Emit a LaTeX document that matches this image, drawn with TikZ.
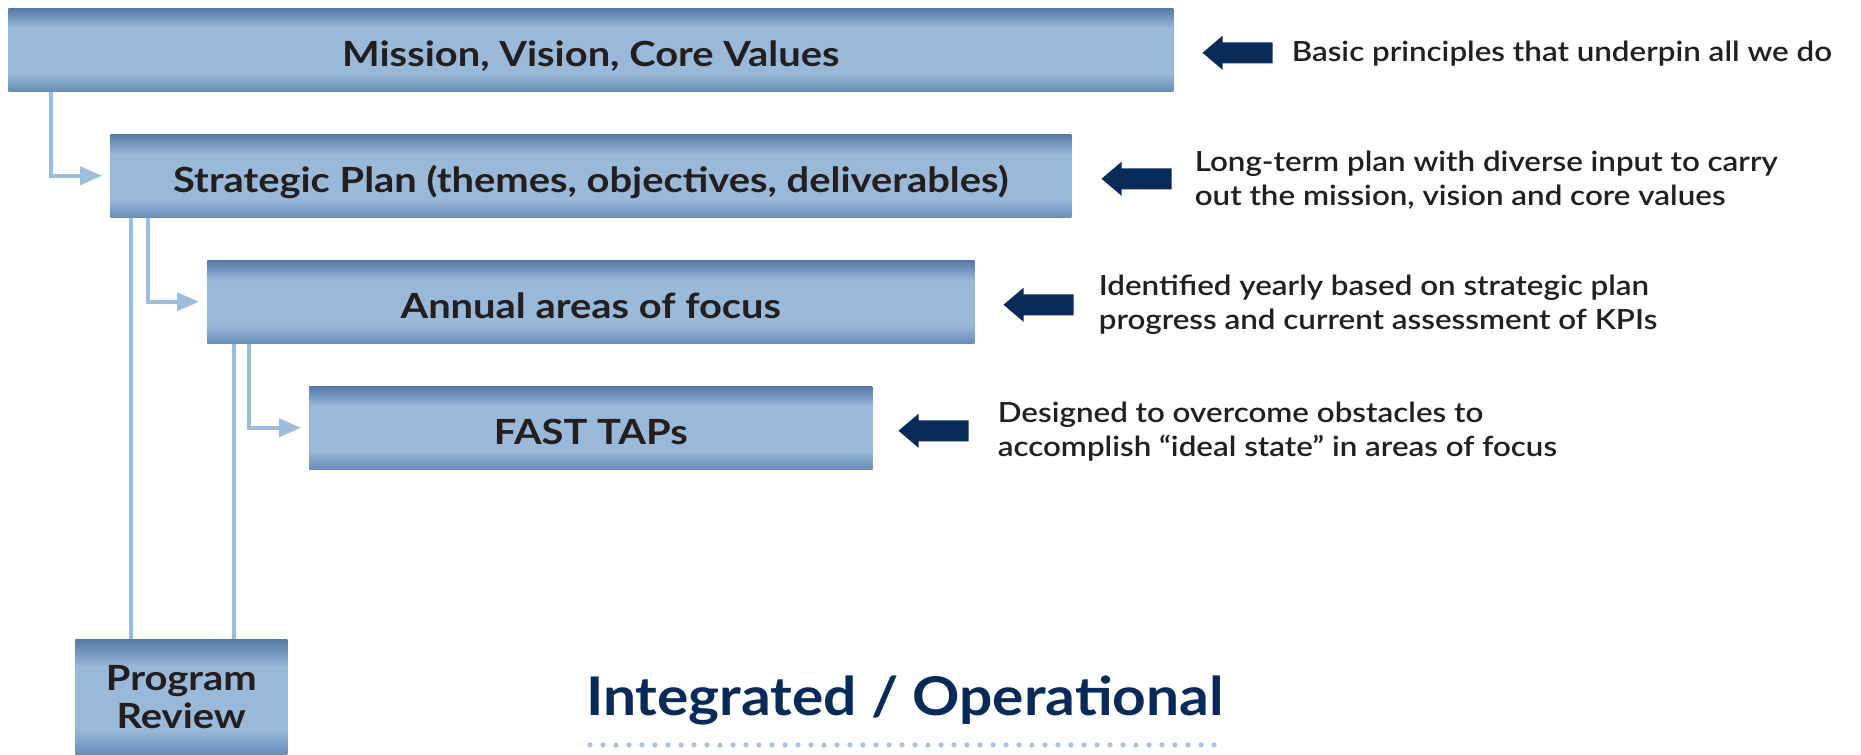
\documentclass[tikz,border=0pt]{standalone}
\usepackage{fontspec}
\setmainfont{Lato}
\newfontfamily\titlefont{Lato}[FakeStretch=1.15]
\newfontfamily\descfont{Lato Semibold}[FakeStretch=1.13]
\newfontfamily\iofont{Lato}[FakeStretch=1.10]
\usetikzlibrary{arrows.meta}
\definecolor{navy}{RGB}{8,42,88}
\definecolor{tdark}{RGB}{35,31,32}
\definecolor{lblue}{RGB}{157,189,221}
\definecolor{dotblue}{RGB}{168,196,224}
\definecolor{btop}{RGB}{84,121,166}
\definecolor{blight}{RGB}{154,185,217}
\definecolor{bbot}{RGB}{104,142,184}
\pgfdeclareverticalshading{boxshade}{100bp}{color(0bp)=(bbot); color(25bp)=(bbot); color(36bp)=(blight); color(63bp)=(blight); color(75bp)=(btop); color(100bp)=(btop)}
\tikzset{
  box/.style={rectangle, shading=boxshade, inner sep=0pt, minimum height=62.25pt,
    font=\titlefont\bfseries\fontsize{26}{30}\selectfont, text=tdark, anchor=north west,
    text height=25pt, text depth=0pt},
  conn/.style={draw=lblue, line width=3pt, -{Triangle[length=16.5pt,width=13.5pt]}},
  plainline/.style={draw=lblue, line width=3pt},
  desc/.style={anchor=west, align=left, font=\descfont\fontsize{20.8}{25.5}\selectfont, text=tdark, inner sep=0pt},
  pics/darrow/.style={code={\fill[navy] (0,0) -- (20,-17) -- (20,-10.5) -- (70,-10.5) -- (70,10.5) -- (20,10.5) -- (20,17) -- cycle;}},
  dotline/.style={draw=dotblue, line width=3.9pt, line cap=round, dash pattern=on 0pt off 9.75pt}
}
\begin{document}
\begin{tikzpicture}[x=0.75pt, y=-0.75pt]
\useasboundingbox (0,0) rectangle (1861,754);
% boxes
\node[box, minimum width=1165*0.75pt] (m) at (8,8) {Mission, Vision, Core Values};
\node[box, minimum width=961*0.75pt] (s) at (110,134) {Strategic Plan (themes, objectives, deliverables)};
\node[box, minimum width=767*0.75pt] (a) at (207,260) {Annual areas of focus};
\node[box, minimum width=563*0.75pt] (f) at (309,386) {FAST TAPs};
\node[box, minimum width=212*0.75pt, minimum height=115*0.75pt, align=center,
  text height=, text depth=,
  font=\titlefont\bfseries\fontsize{26}{28.5}\selectfont] (pr) at (75,639) {Program\\Review};
% connectors
\draw[conn] ([xshift=32.25pt]m.south west) |- ([xshift=-6pt]s.west);
\draw[conn] ([xshift=28.5pt]s.south west) |- ([xshift=-6pt]a.west);
\draw[conn] ([xshift=31.5pt]a.south west) |- ([xshift=-6pt]f.west);
\draw[plainline] ([xshift=15.75pt]s.south west) coordinate (p1) -- (p1 |- pr.north);
\draw[plainline] ([xshift=20.25pt]a.south west) coordinate (p2) -- (p2 |- pr.north);
% dark arrows
\pic at ([xshift=21.75pt, yshift=-2.25pt]m.east) {darrow};
\pic at ([xshift=22.5pt, yshift=-2.25pt]s.east) {darrow};
\pic at ([xshift=21.75pt, yshift=-2.25pt]a.east) {darrow};
\pic at ([xshift=19.5pt, yshift=-2.25pt]f.east) {darrow};
% descriptions
\node[desc] (d1) at ([xshift=88.5pt, yshift=-3.2pt]m.east) {Basic principles that underpin all we do};
\node[desc] (d2) at ([xshift=92.25pt, yshift=-3.4pt]s.east) {Long-term plan with diverse input to carry\\out the mission, vision and core values};
\node[desc] (d3) at ([xshift=93pt, yshift=-2.6pt]a.east) {Identified yearly based on strategic plan\\progress and current assessment of KPIs};
\node[desc] (d4) at ([xshift=93.75pt, yshift=-2.6pt]f.east) {Designed to overcome obstacles to\\accomplish “ideal state” in areas of focus};
% bottom label
\node[font=\iofont\bfseries\fontsize{40}{48}\selectfont, text=navy, inner sep=0pt] (io) at (905,700) {Integrated / Operational};
\draw[dotline] (590,745) -- (1222,745);
\end{tikzpicture}
\end{document}
